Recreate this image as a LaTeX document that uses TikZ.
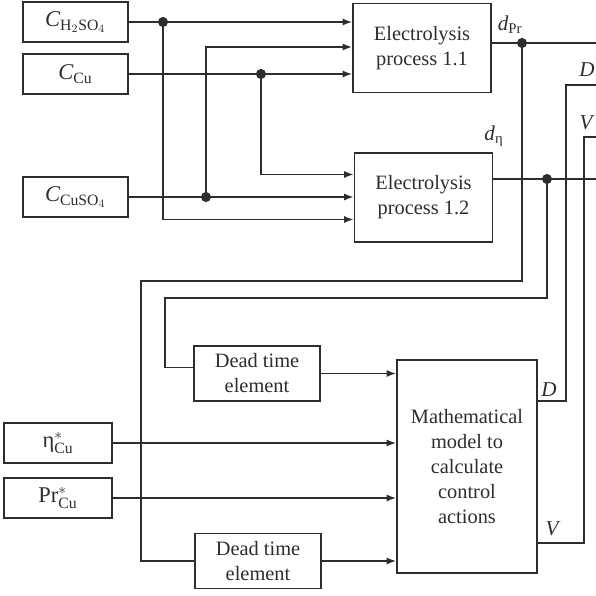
\documentclass[tikz,border=0pt]{standalone}
\usepackage{amsmath}
\usepackage{fontspec}
\setmainfont{Liberation Serif}
\usetikzlibrary{arrows.meta,positioning,calc}
\definecolor{wire}{RGB}{45,45,45}

\begin{document}
\begin{tikzpicture}[x=0.025cm, y=-0.025cm,
  every node/.style={font=\fontsize{14.5}{17.8}\selectfont, text=wire},
  blk/.style={rectangle, draw=wire, line width=1.2pt, inner sep=0pt, align=center},
  srcB/.style={blk, minimum width=2.625cm, minimum height=1cm, font=\fontsize{16}{18}\selectfont},
  refB/.style={blk, minimum width=2.7cm, minimum height=1cm, font=\fontsize{16}{18}\selectfont},
  procB/.style={blk, minimum width=3.45cm, minimum height=2.22cm},
  delayB/.style={blk, minimum width=3.15cm, minimum height=1.38cm},
  line/.style={draw=wire, line width=1.2pt},
  flow/.style={line, -{Latex[length=2.4mm,width=1.8mm]}},
  lbl/.style={inner sep=1pt, font=\fontsize{15}{18}\selectfont},
]
\useasboundingbox (0,0) rectangle (595,596);

% source concentrations
\node[srcB] (ch2so4) at (75.5,22) {$\textit{C}_{\text{H}_2\text{SO}_4}$};
\node[srcB] (ccu) at (75.5,74) {$\textit{C}_{\text{Cu}}$};
\node[srcB] (ccuso4) at (75.5,197) {$\textit{C}_{\text{CuSO}_4}$};

% electrolysis blocks
\node[procB] (proc1) at (422,48) {Electrolysis\\process 1.1};
\node[procB] (proc2) at (423.5,197.5) {Electrolysis\\process 1.2};

% dead time and model
\node[delayB] (dead1) at (257,373.5) {Dead time\\element};
\node[delayB] (dead2) at (258,561) {Dead time\\element};
\node[blk, minimum width=3.5cm, minimum height=5.33cm] (model) at (467,466.5)
  {Mathematical\\model to\\calculate\\control\\actions};

% set points
\node[refB] (eta) at (58,443) {$\text{η}^{*}_{\text{Cu}}$};
\node[refB] (prcu) at (58,498) {$\text{Pr}^{*}_{\text{Cu}}$};

% junctions and bends
\coordinate (j1) at (163,22);
\coordinate (j2) at (261,74);
\coordinate (j3) at (206,197);
\coordinate (j4) at (522,43);
\coordinate (j5) at (547,179);
\coordinate (b1) at (141,281);
\coordinate (b2) at (165,298);
\coordinate (bD) at (566,85);
\coordinate (bV) at (584,137);
\coordinate (outPr) at (600,43);
\coordinate (outEta) at (600,179);
\coordinate (outD) at (600,85);
\coordinate (outV) at (600,137);

% inputs of the processes
\draw[flow] (ch2so4) -- (proc1.west |- ch2so4);
\draw[flow] (j3) |- ($(proc1.west)+(0,-1)$);
\draw[flow] (ccu) -- (proc1.west |- ccu);
\draw[flow] (j2) |- ($(proc2.west)+(0,-23)$);
\draw[flow] (ccuso4) -- (proc2.west |- ccuso4);
\draw[flow] (j1) |- ($(proc2.west)+(0,22)$);

% outputs and feedback
\draw[line] (proc1.east |- j4) -- (outPr);
\draw[line] (proc2.east |- j5) -- (outEta);
\draw[line] (j4) |- (b1) |- (dead2.west);
\draw[line] (j5) |- (b2) |- ($(dead1.west)+(0,-6)$);
\draw[flow] (dead1) -- (model.west |- dead1);
\draw[flow] (eta) -- (model.west |- eta);
\draw[flow] (prcu) -- (model.west |- prcu);
\draw[flow] (dead2) -- (model.west |- dead2);
\draw[line] ($(model.north east)+(0,42)$) -| (bD) -- (outD);
\draw[line] ($(model.south east)+(0,-31)$) -| (bV) -- (outV);

\foreach \j in {j1,j2,j3,j4,j5}
  \fill[wire] (\j) circle[radius=3.6pt];

% signal labels
\node[lbl] (lPr) at (510,25) {\textit{d}\textsubscript{Pr}};
\node[lbl] (lEta) at (494,136) {\textit{d}\textsubscript{η}};
\node[lbl] (lDtop) at (587,70) {\textit{D}};
\node[lbl] (lVtop) at (587,123) {\textit{V}};
\node[lbl] (lD) at (549,390) {\textit{D}};
\node[lbl] (lV) at (553,529) {\textit{V}};
\end{tikzpicture}
\end{document}
